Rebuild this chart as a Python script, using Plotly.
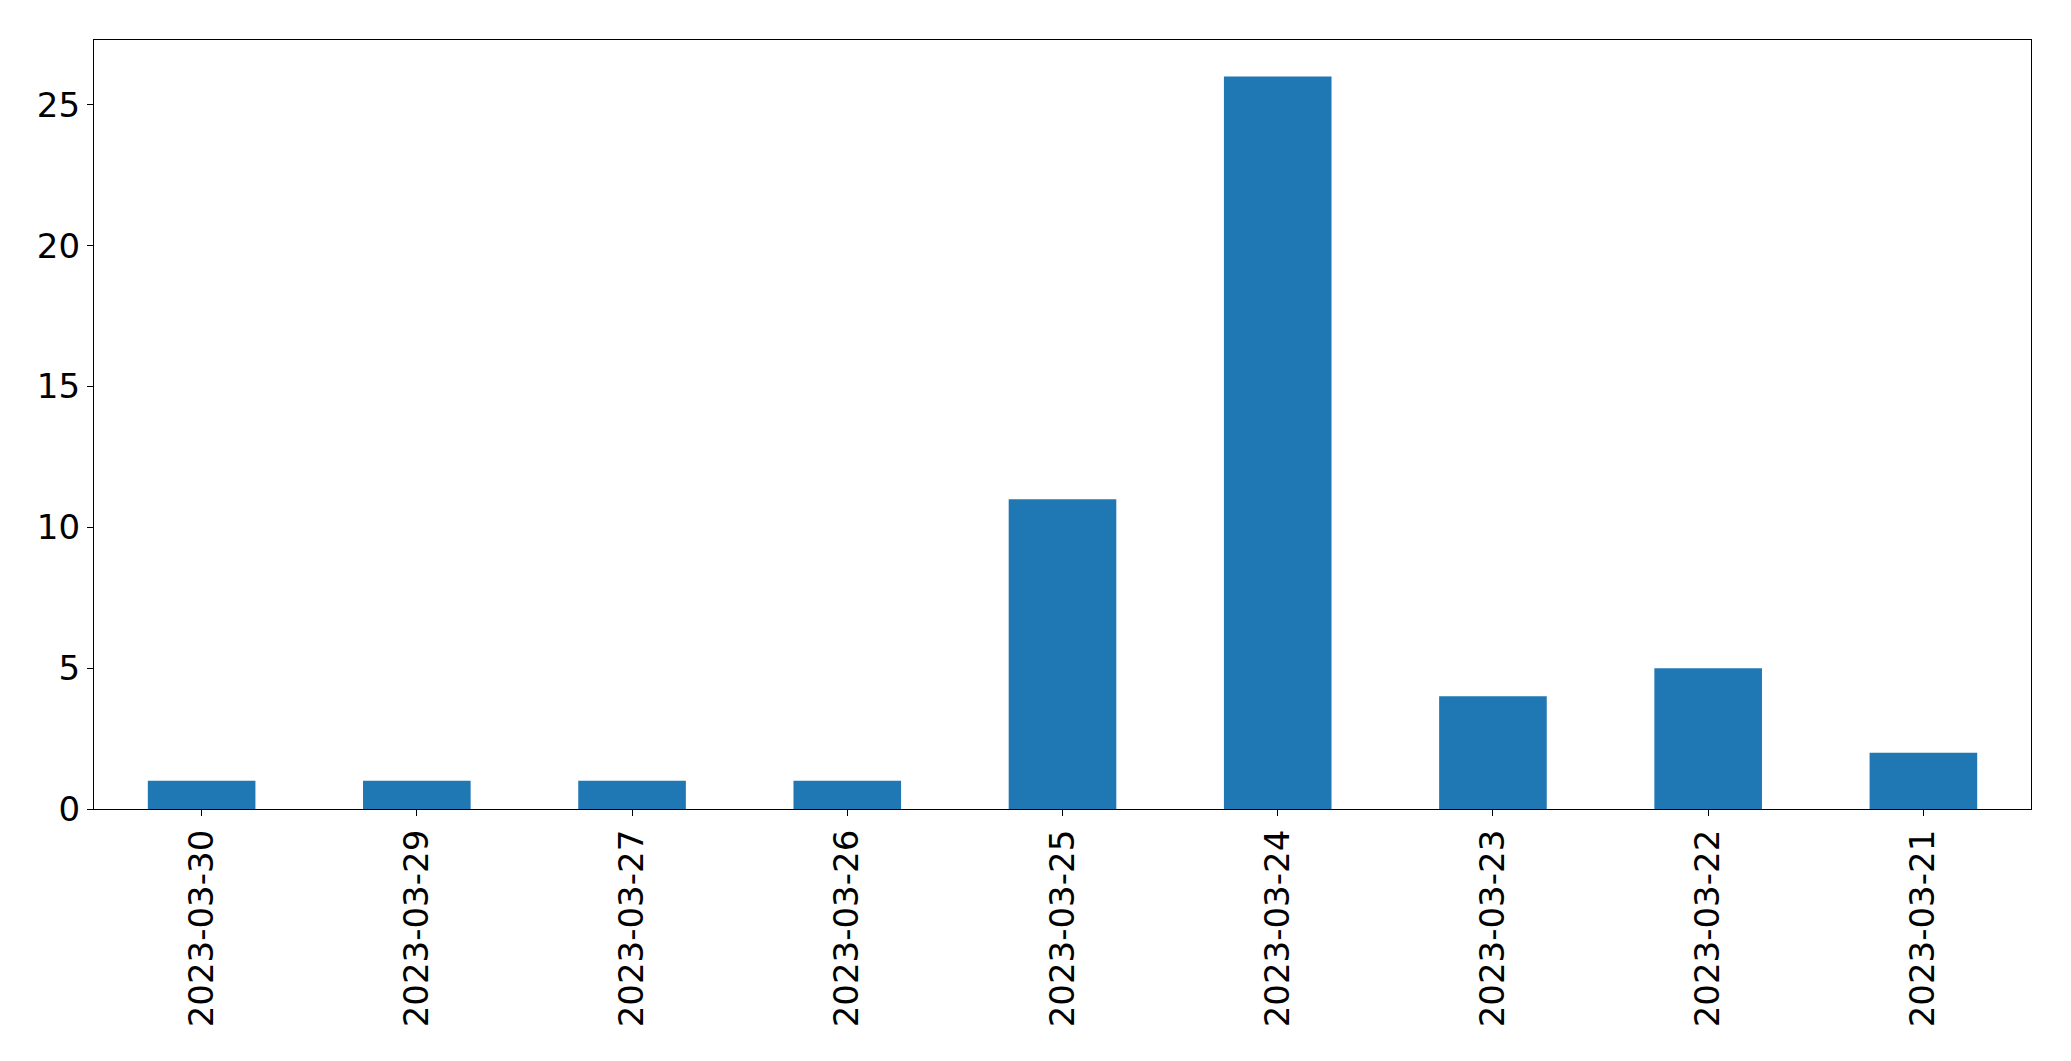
import plotly.graph_objects as go

dates = ["2023-03-30", "2023-03-29", "2023-03-27", "2023-03-26", "2023-03-25",
         "2023-03-24", "2023-03-23", "2023-03-22", "2023-03-21"]
counts = [1, 1, 1, 1, 11, 26, 4, 5, 2]
y_ticks = [0, 5, 10, 15, 20, 25]

fig = go.Figure(go.Bar(x=dates, y=counts, marker_color="#1f77b4",
                       marker_line_width=0, width=0.5))

fig.update_layout(
    width=2055, height=1045,
    margin=dict(l=86, r=32, t=32, b=244),
    paper_bgcolor="white", plot_bgcolor="white",
    font=dict(family="DejaVu Sans", size=34, color="black"),
    showlegend=False,
)
fig.update_xaxes(type="category", range=[-0.5, 8.5], tickangle=-90,
                 showline=True, linecolor="black", linewidth=1.3, mirror=True,
                 ticks="outside", ticklen=6, tickwidth=1.3, tickcolor="black",
                 showgrid=False, zeroline=False)
fig.update_yaxes(range=[0, 27.3], tickvals=y_ticks,
                 showline=True, linecolor="black", linewidth=1.3, mirror=True,
                 ticks="outside", ticklen=6, tickwidth=1.3, tickcolor="black",
                 showgrid=False, zeroline=False)

fig.write_html("out.html")
